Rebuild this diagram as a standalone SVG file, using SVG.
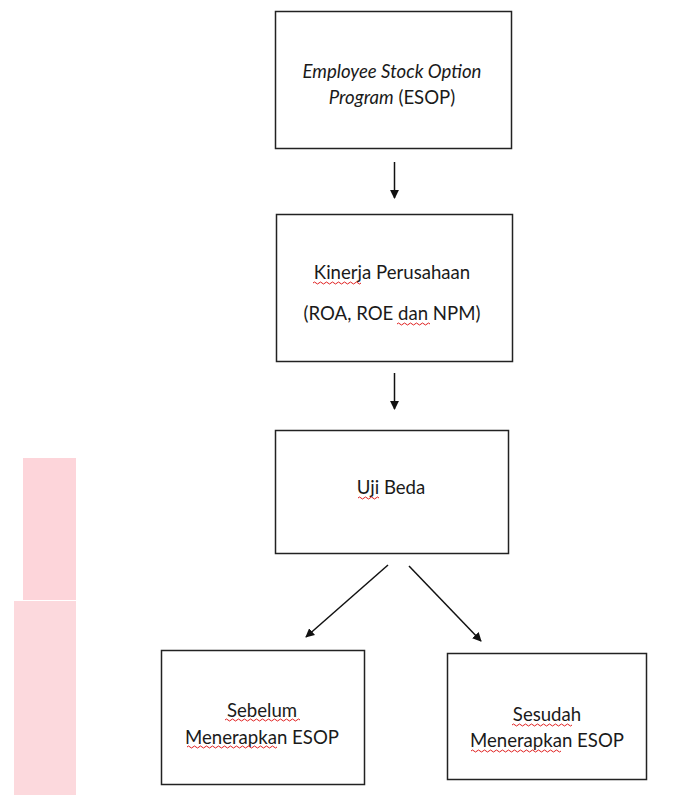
<svg xmlns="http://www.w3.org/2000/svg" width="680" height="795" viewBox="0 0 680 795">
  <style>
    .box { fill: #ffffff; stroke: #222222; stroke-width: 1.5; }
    .t { font-family: Lato, "Liberation Sans", sans-serif; font-size: 18.6px; fill: #1a1a1a; text-anchor: middle; }
    .i { font-style: italic; }
    .sq { fill: none; stroke: #e02020; stroke-width: 1; }
    .conn { stroke: #111111; stroke-width: 1.5; fill: none; marker-end: url(#ah); }
  </style>
  <defs>
    <marker id="ah" viewBox="0 0 10 10" refX="9" refY="5" markerWidth="9" markerHeight="9" markerUnits="userSpaceOnUse" orient="auto">
      <path d="M0,0 L10,5 L0,10 Z" fill="#111111"/>
    </marker>
  </defs>
  <rect width="680" height="795" fill="#ffffff"/>
  <g id="decor">
    <rect x="23" y="458" width="53" height="142" fill="#fdd5da"/>
    <rect x="14" y="601" width="62" height="194" fill="#fcd9dd"/>
  </g>
  <g id="connectors">
    <line class="conn" x1="394.5" y1="162" x2="394.5" y2="198"/>
    <line class="conn" x1="394.5" y1="373" x2="394.5" y2="409"/>
    <line class="conn" x1="388" y1="565" x2="306" y2="637"/>
    <line class="conn" x1="409" y1="566" x2="481" y2="641"/>
  </g>
  <g id="esop">
    <rect class="box" x="275.5" y="11.5" width="236" height="137"/>
    <text class="t i" x="392" y="78">Employee Stock Option</text>
    <text class="t" x="392" y="104"><tspan class="i">Program</tspan> (ESOP)</text>
  </g>
  <g id="kinerja">
    <rect class="box" x="276.5" y="214.5" width="236" height="147"/>
    <text class="t" x="392" y="279">Kinerja Perusahaan</text>
    <text class="t" x="392" y="320">(ROA, ROE dan NPM)</text>
    <path class="sq" d="M313,283 q1.5,-2 3,0 t3,0 t3,0 t3,0 t3,0 t3,0 t3,0 t3,0 t3,0 t3,0 t3,0 t3,0 t3,0 t3,0 t3,0 t3,0"/>
    <path class="sq" d="M397,324 q1.5,-2 3,0 t3,0 t3,0 t3,0 t3,0 t3,0 t3,0 t3,0 t3,0 t3,0 t3,0"/>
  </g>
  <g id="uji">
    <rect class="box" x="275.5" y="430.5" width="233" height="123"/>
    <text class="t" x="391" y="494">Uji Beda</text>
    <path class="sq" d="M358,498 q1.5,-2 3,0 t3,0 t3,0 t3,0 t3,0 t3,0 t3,0"/>
  </g>
  <g id="sebelum">
    <rect class="box" x="161.5" y="650.5" width="203" height="134"/>
    <text class="t" x="262" y="717">Sebelum</text>
    <text class="t" x="262" y="744">Menerapkan ESOP</text>
    <path class="sq" d="M225,720 q1.5,-2 3,0 t3,0 t3,0 t3,0 t3,0 t3,0 t3,0 t3,0 t3,0 t3,0 t3,0 t3,0 t3,0 t3,0 t3,0 t3,0 t3,0 t3,0 t3,0 t3,0 t3,0 t3,0 t3,0 t3,0 t3,0"/>
    <path class="sq" d="M187,747 q1.5,-2 3,0 t3,0 t3,0 t3,0 t3,0 t3,0 t3,0 t3,0 t3,0 t3,0 t3,0 t3,0 t3,0 t3,0 t3,0 t3,0 t3,0 t3,0 t3,0 t3,0 t3,0 t3,0 t3,0 t3,0 t3,0 t3,0 t3,0 t3,0 t3,0 t3,0"/>
  </g>
  <g id="sesudah">
    <rect class="box" x="447.5" y="653.5" width="199" height="126"/>
    <text class="t" x="547" y="721">Sesudah</text>
    <text class="t" x="547" y="747">Menerapkan ESOP</text>
    <path class="sq" d="M512,725 q1.5,-2 3,0 t3,0 t3,0 t3,0 t3,0 t3,0 t3,0 t3,0 t3,0 t3,0 t3,0 t3,0 t3,0 t3,0 t3,0 t3,0 t3,0 t3,0 t3,0 t3,0"/>
    <path class="sq" d="M471,751 q1.5,-2 3,0 t3,0 t3,0 t3,0 t3,0 t3,0 t3,0 t3,0 t3,0 t3,0 t3,0 t3,0 t3,0 t3,0 t3,0 t3,0 t3,0 t3,0 t3,0 t3,0 t3,0 t3,0 t3,0 t3,0 t3,0 t3,0 t3,0 t3,0 t3,0 t3,0"/>
  </g>
</svg>
